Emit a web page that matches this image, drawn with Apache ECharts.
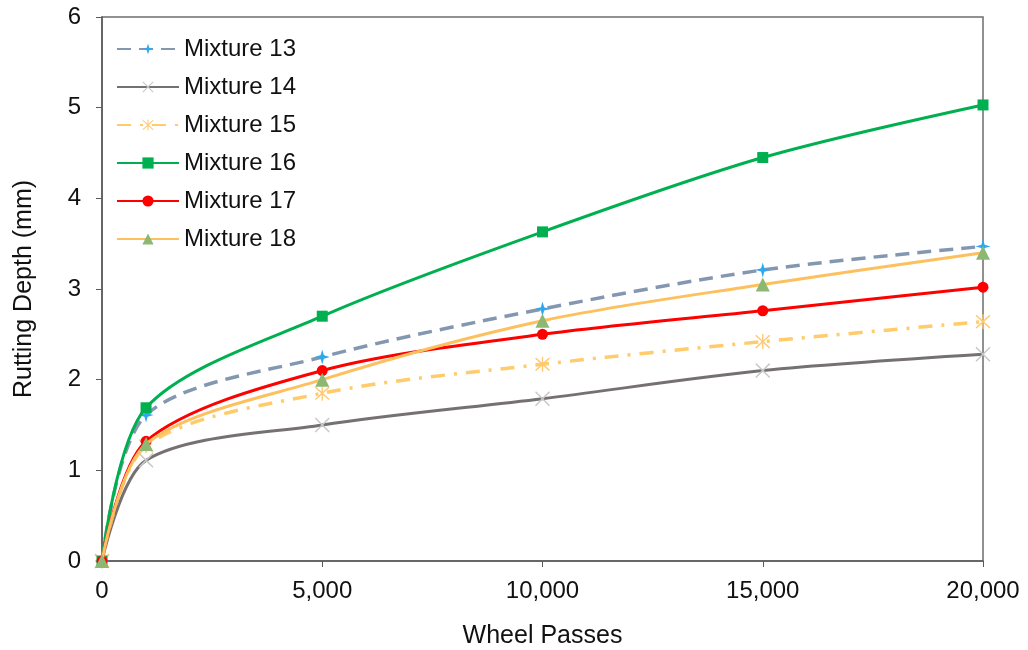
<!DOCTYPE html>
<html>
<head>
<meta charset="utf-8">
<script src="https://cdn.jsdelivr.net/npm/echarts@6/dist/echarts.min.js"></script>
<style>html,body{margin:0;padding:0;background:#fff}#c{width:1028px;height:650px}</style>
</head>
<body>
<div id="c"></div>
<script>
const wheelPasses = [0, 1000, 5000, 10000, 15000, 20000];
const seriesNames = ['Mixture 13','Mixture 14','Mixture 15','Mixture 16','Mixture 17','Mixture 18'];
const mix13 = [0, 1.61, 2.25, 2.78, 3.21, 3.47];
const mix14 = [0, 1.11, 1.50, 1.79, 2.10, 2.28];
const mix15 = [0, 1.27, 1.85, 2.17, 2.42, 2.64];
const mix16 = [0, 1.69, 2.70, 3.63, 4.45, 5.03];
const mix17 = [0, 1.32, 2.10, 2.50, 2.76, 3.02];
const mix18 = [0, 1.29, 2.00, 2.65, 3.05, 3.40];
const xTicks = [0, 5000, 10000, 15000, 20000];
const yTicks = [0, 1, 2, 3, 4, 5, 6];

const starPath = 'path://M0,-10 L2.2,-2.2 L10,0 L2.2,2.2 L0,10 L-2.2,2.2 L-10,0 L-2.2,-2.2 Z';
const xPath = 'path://M-10,-8.6 L-8.6,-10 L0,-1.4 L8.6,-10 L10,-8.6 L1.4,0 L10,8.6 L8.6,10 L0,1.4 L-8.6,10 L-10,8.6 L-1.4,0 Z';
const astPath = 'path://M-10,-8.6 L-8.6,-10 L0,-1.4 L8.6,-10 L10,-8.6 L1.4,0 L10,8.6 L8.6,10 L0,1.4 L-8.6,10 L-10,8.6 L-1.4,0 Z M-0.9,-11 L0.9,-11 L0.9,11 L-0.9,11 Z';

function pairs(vals){ return wheelPasses.map((x,i)=>[x, vals[i]]); }

const styles = [
  {data: mix13, color:'#8497B0', width:3.5, type:[14,8], symbol: starPath, size:15, sym:'#2EA8F0'},
  {data: mix14, color:'#757171', width:3, type:'solid', symbol: xPath, size:15, sym:'#C8C8C8'},
  {data: mix15, color:'#FFCB6B', width:3.5, type:[14,9,3,9], symbol: astPath, size:15, sym:'#FFC870'},
  {data: mix16, color:'#00B050', width:3, type:'solid', symbol:'rect', size:11, sym:'#00B050'},
  {data: mix17, color:'#FF0000', width:3, type:'solid', symbol:'circle', size:11, sym:'#FF0000'},
  {data: mix18, color:'#FDC05E', width:3, type:'solid', symbol:'triangle', size:14, sym:'#8DB873'}
];

const chart = echarts.init(document.getElementById('c'));
const axisColor = '#5A5A5A';
const font = 'Liberation Sans';
chart.setOption({
  animation:false,
  backgroundColor:'#fff',
  grid:{left:102, right:45, top:17, bottom:89, show:true, borderColor:'#6E6E6E', borderWidth:1.5,
        containLabel:false, outerBoundsMode:'none'},
  legend:{
    orient:'vertical', left:111, top:32, itemGap:14, itemWidth:62, itemHeight:14,
    textStyle:{fontFamily:font, fontSize:24, color:'#111'},
    data: seriesNames
  },
  xAxis:{
    type:'value', min:0, max:20000, interval:5000,
    name:'Wheel Passes', nameLocation:'middle', nameGap:63,
    nameTextStyle:{fontFamily:font, fontSize:25, color:'#111'},
    axisLine:{show:true, lineStyle:{color:axisColor, width:1.5}},
    axisTick:{show:true, length:6, lineStyle:{color:axisColor}},
    axisLabel:{fontFamily:font, fontSize:24, color:'#111', margin:18,
      formatter:v => xTicks.includes(v) ? v.toLocaleString('en-US') : ''},
    splitLine:{show:false}
  },
  yAxis:{
    type:'value', min:0, max:6, interval:1,
    name:'Rutting Depth (mm)', nameLocation:'middle', nameGap:65,
    nameTextStyle:{fontFamily:font, fontSize:25, color:'#111'},
    axisLine:{show:true, lineStyle:{color:axisColor, width:1.5}},
    axisTick:{show:true, length:6, lineStyle:{color:axisColor}},
    axisLabel:{fontFamily:font, fontSize:24, color:'#111', margin:21,
      formatter:v => yTicks.includes(v) ? String(v) : ''},
    splitLine:{show:false}
  },
  series: styles.map((s,i)=>({
    name: seriesNames[i], type:'line', smooth:0.3, clip:false,
    data: pairs(s.data),
    symbol: s.symbol, symbolSize: s.size, showAllSymbol:true,
    lineStyle:{color:s.color, width:s.width, type:s.type},
    itemStyle:{color:s.sym, borderWidth:0},
    z: 2 + i
  }))
});
</script>
</body>
</html>
